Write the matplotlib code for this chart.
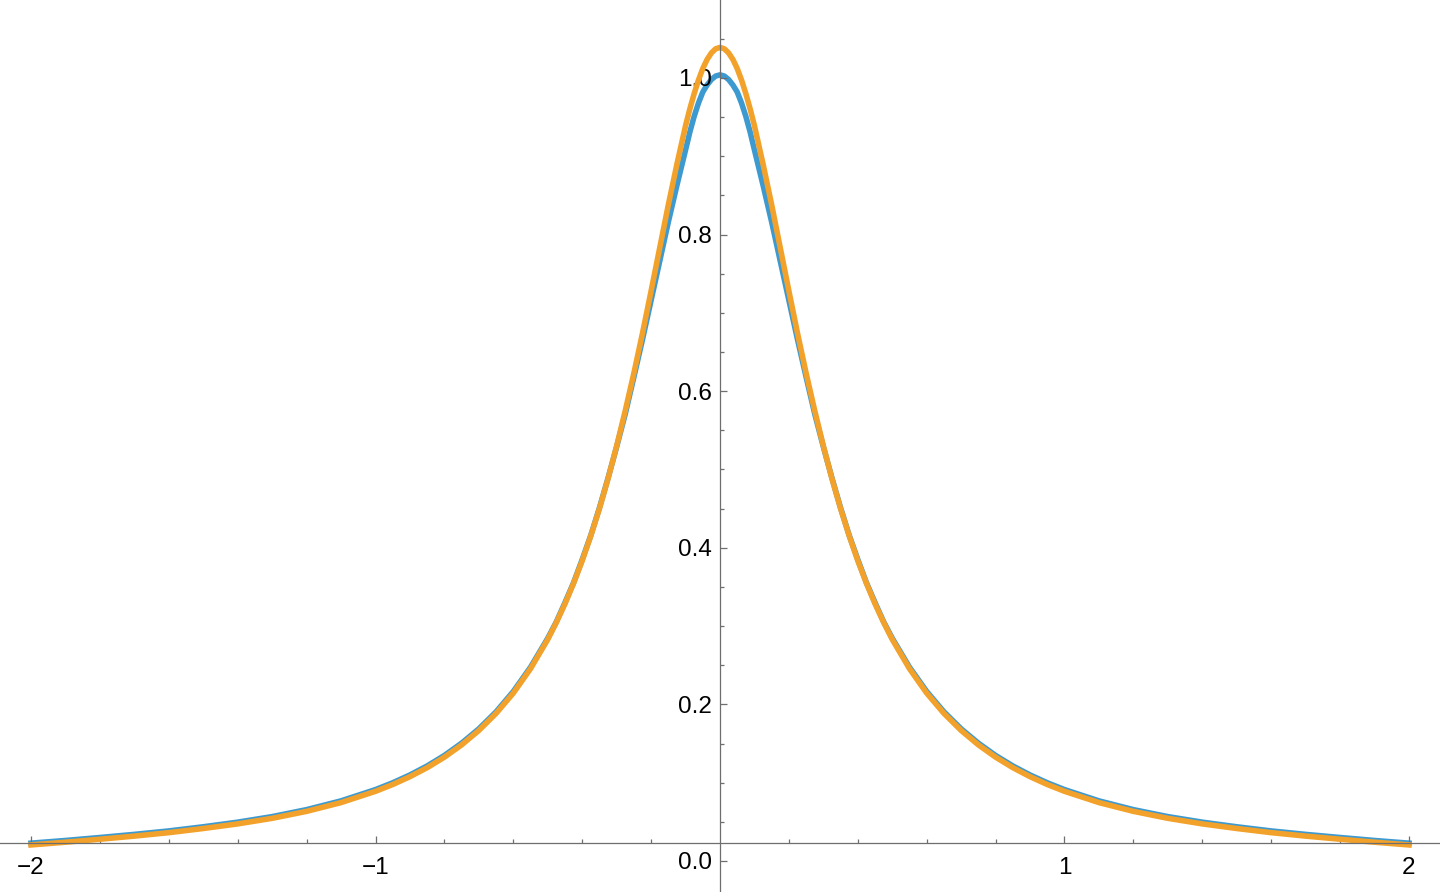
import numpy as np
import matplotlib.pyplot as plt
from matplotlib.ticker import MultipleLocator, FixedLocator

# values, right half (curves are symmetric about x = 0)
x_half = [0.0, 0.0125, 0.025, 0.0375, 0.05, 0.0625, 0.075, 0.0875, 0.1, 0.125, 0.15, 0.175,
          0.2, 0.225, 0.25, 0.275, 0.3, 0.325, 0.35, 0.375, 0.4, 0.425, 0.45, 0.475, 0.5,
          0.55, 0.6, 0.65, 0.7, 0.75, 0.8, 0.85, 0.9, 0.95,
          1.0, 1.1, 1.2, 1.3, 1.4, 1.5, 1.6, 1.7, 1.8, 1.9, 2.0]
blue_half = [1.004, 1.0025, 0.998, 0.991, 0.982, 0.968, 0.951, 0.931, 0.908, 0.863, 0.816, 0.766,
             0.716, 0.666, 0.618, 0.571, 0.529, 0.489, 0.451, 0.416, 0.385, 0.3555, 0.330, 0.3055, 0.2845,
             0.2475, 0.2165, 0.1905, 0.1688, 0.1505, 0.1348, 0.1214, 0.1099, 0.0999,
             0.0912, 0.0768, 0.0656, 0.0567, 0.0496, 0.0437, 0.0384, 0.0340, 0.0300, 0.0262, 0.0228]
orange_half = [1.039, 1.0373, 1.032, 1.0236, 1.012, 0.9974, 0.980, 0.9605, 0.939, 0.890, 0.838, 0.783,
               0.728, 0.674, 0.623, 0.575, 0.530, 0.4882, 0.450, 0.4153, 0.3835, 0.3547, 0.3285, 0.3047, 0.283,
               0.2456, 0.2144, 0.1885, 0.1667, 0.1483, 0.1326, 0.1192, 0.1077, 0.0977,
               0.0890, 0.0746, 0.0634, 0.0545, 0.0474, 0.0415, 0.0362, 0.0318, 0.0278, 0.0240, 0.0205]

x_ticks = [-2, -1, 1, 2]
y_ticks = [0.0, 0.2, 0.4, 0.6, 0.8, 1.0]

def mirror(xs, ys):
    xs = np.asarray(xs)
    ys = np.asarray(ys)
    return np.concatenate([-xs[:0:-1], xs]), np.concatenate([ys[:0:-1], ys])

xb, yb = mirror(x_half, blue_half)
xo, yo = mirror(x_half, orange_half)

plt.rcParams['font.family'] = ['Liberation Sans', 'DejaVu Sans']

fig = plt.figure(figsize=(14.4, 8.92), dpi=100)
ax = fig.add_axes([0, 0, 1, 1])
ax.set_xlim(-2.09, 2.09)
ax.set_ylim(-0.0396, 1.0996)

# curves sit under the axes so the tick labels stay readable
ax.plot(xb, yb, color='#3d9ad1', lw=4, solid_joinstyle='round', zorder=1.5)
ax.plot(xo, yo, color='#f2a12a', lw=4, solid_joinstyle='round', zorder=1.6)

axis_col = '#6e6e6e'
for s in ['top', 'right']:
    ax.spines[s].set_visible(False)
ax.spines['bottom'].set_position(('data', 0.023))
ax.spines['left'].set_position(('data', 0))
for s in ['bottom', 'left']:
    ax.spines[s].set_color(axis_col)
    ax.spines[s].set_linewidth(0.9)

ax.xaxis.set_major_locator(FixedLocator(x_ticks))
ax.xaxis.set_minor_locator(FixedLocator([v for v in np.arange(-2, 2.01, 0.2).round(1) if v not in (-2, -1, 0, 1, 2)]))
ax.yaxis.set_major_locator(FixedLocator(y_ticks))
ax.yaxis.set_minor_locator(MultipleLocator(0.05))
ax.set_xticklabels(['\u22122', '\u22121', '1', '2'])
ax.set_yticklabels(['0.0', '0.2', '0.4', '0.6', '0.8', '1.0'])

ax.tick_params(which='both', direction='in', color=axis_col, width=0.9, labelsize=17.5, labelcolor='black')
ax.tick_params(which='major', length=5)
ax.tick_params(which='minor', length=3)
ax.tick_params(axis='x', pad=10)
ax.tick_params(axis='y', pad=6)

fig.savefig('out.png', dpi=100)
